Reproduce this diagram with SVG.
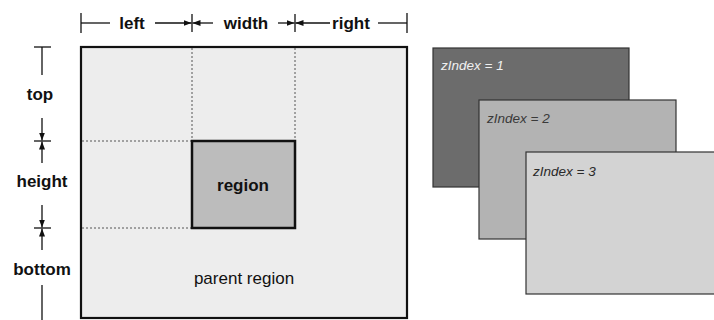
<svg xmlns="http://www.w3.org/2000/svg" width="714" height="320" viewBox="0 0 714 320">
<style>
.lbl{font-family:"Liberation Sans",Arial,sans-serif;font-weight:bold;font-size:17px;fill:#111;text-anchor:middle}
.plain{font-family:"Liberation Sans",Arial,sans-serif;font-size:17px;fill:#111;text-anchor:middle}
.z{font-family:"Liberation Sans",Arial,sans-serif;font-style:italic;font-size:13.5px}
.dim{stroke:#111;stroke-width:1.3;fill:none}
.arr{stroke:#111;stroke-width:1.3;fill:none;marker-end:url(#ah)}
.dash{stroke:#555;stroke-width:1;stroke-dasharray:2,2;fill:none}
.layer{stroke:#333;stroke-width:1.2}
</style>
<defs>
<marker id="ah" viewBox="0 0 8 6" refX="8" refY="3" markerWidth="8" markerHeight="6" markerUnits="userSpaceOnUse" orient="auto">
<path d="M0,0 L8,3 L0,6 z" fill="#111"/>
</marker>
</defs>
<rect width="714" height="320" fill="#ffffff"/>
<g id="parent-region">
<rect x="81" y="47" width="326" height="271" fill="#ededed" stroke="#111" stroke-width="2.2"/>
<text class="plain" x="244" y="284">parent region</text>
</g>
<g id="guides">
<line class="dash" x1="192" y1="48" x2="192" y2="141"/>
<line class="dash" x1="295" y1="48" x2="295" y2="141"/>
<line class="dash" x1="82" y1="141" x2="192" y2="141"/>
<line class="dash" x1="82" y1="228" x2="192" y2="228"/>
</g>
<g id="region">
<rect x="192" y="141" width="103" height="87" fill="#bcbcbc" stroke="#111" stroke-width="2.5"/>
<text class="lbl" x="243" y="191">region</text>
</g>
<g id="zindex-1">
<rect class="layer" x="433" y="48" width="196" height="139" fill="#6c6c6c"/>
<text class="z" x="441" y="70" fill="#f0f0f0">zIndex = 1</text>
</g>
<g id="zindex-2">
<rect class="layer" x="479" y="100" width="197" height="139" fill="#b3b3b3"/>
<text class="z" x="487" y="123" fill="#3a3a3a">zIndex = 2</text>
</g>
<g id="zindex-3">
<rect class="layer" x="526" y="152" width="192" height="142" fill="#d3d3d3"/>
<text class="z" x="533" y="176" fill="#2a2a2a">zIndex = 3</text>
</g>
<g id="dimension-labels">
<text class="lbl" x="132" y="29">left</text>
<text class="lbl" x="246" y="29">width</text>
<text class="lbl" x="351" y="29">right</text>
<text class="lbl" x="40" y="100">top</text>
<text class="lbl" x="42" y="187">height</text>
<text class="lbl" x="42" y="275">bottom</text>
</g>
<g id="connectors">
<line class="dim" x1="81" y1="13" x2="81" y2="33"/>
<line class="dim" x1="192" y1="14" x2="192" y2="32"/>
<line class="dim" x1="295" y1="14" x2="295" y2="32"/>
<line class="dim" x1="407" y1="13" x2="407" y2="33"/>
<line class="dim" x1="81" y1="23" x2="110" y2="23"/>
<line class="arr" x1="155" y1="23" x2="191.5" y2="23"/>
<line class="arr" x1="213" y1="23" x2="192.5" y2="23"/>
<line class="arr" x1="278" y1="23" x2="294.5" y2="23"/>
<line class="arr" x1="330" y1="23" x2="295.5" y2="23"/>
<line class="dim" x1="378" y1="23" x2="407" y2="23"/>
<line class="dim" x1="34" y1="47" x2="51" y2="47"/>
<line class="dim" x1="42" y1="47" x2="42" y2="75"/>
<line class="arr" x1="42" y1="118" x2="42" y2="140.5"/>
<line class="dim" x1="34" y1="141" x2="51" y2="141"/>
<line class="arr" x1="42" y1="163" x2="42" y2="141.5"/>
<line class="arr" x1="42" y1="205" x2="42" y2="227.5"/>
<line class="dim" x1="34" y1="228" x2="51" y2="228"/>
<line class="arr" x1="42" y1="250" x2="42" y2="228.5"/>
<line class="dim" x1="42" y1="285" x2="42" y2="320"/>
</g>
</svg>
